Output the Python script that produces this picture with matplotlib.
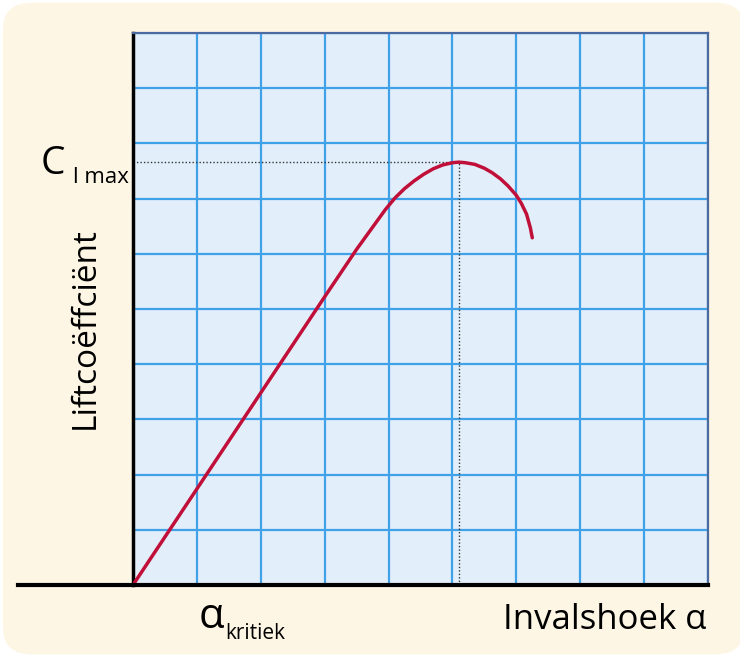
import matplotlib.pyplot as plt
from matplotlib.patches import FancyBboxPatch

# curve (grid units: x 0..9, y 0..10)
alpha = [0.0, 1.0, 2.0, 3.0, 3.5, 3.8, 3.95, 4.1, 4.25, 4.4, 4.55, 4.7, 4.85, 5.0, 5.1, 5.2, 5.35,
         5.5, 5.62, 5.75, 5.87, 6.0, 6.08, 6.16, 6.22, 6.25]
cl = [0.0, 1.74, 3.48, 5.22, 6.08, 6.56, 6.80, 7.01, 7.18, 7.32, 7.44, 7.54, 7.61, 7.65, 7.66, 7.65, 7.62,
      7.55, 7.47, 7.36, 7.23, 7.06, 6.91, 6.72, 6.47, 6.29]
alpha_peak = 5.1
cl_peak = 7.66

plt.rcParams['font.family'] = ['Open Sans', 'DejaVu Sans']

fig = plt.figure(figsize=(7.4, 6.57), dpi=100)
fig.patch.set_facecolor('white')
bg = FancyBboxPatch((0.004, 0.004), 0.992 + 0.01, 0.992, boxstyle='round,pad=0,rounding_size=0.04',
                    transform=fig.transFigure, facecolor='#fef6e5', edgecolor='none', zorder=-10)
fig.patches.append(bg)

ax = fig.add_axes([0.1797, 0.1096, 0.777, 0.8402])
ax.set_facecolor('#e2effb')
ax.set_xlim(0, 9)
ax.set_ylim(0, 10)
ax.set_xticks(range(10))
ax.set_yticks(range(11))
ax.grid(color='#3fa2e8', linewidth=1.6)
ax.tick_params(length=0, labelbottom=False, labelleft=False)
ax.set_axisbelow(True)

for side in ['top', 'right']:
    ax.spines[side].set_color('#4a6aa0')
    ax.spines[side].set_linewidth(1.6)
ax.spines['left'].set_linewidth(2.5)
ax.spines['bottom'].set_visible(False)
# x-axis line reaching past the plot on the left
ax.plot([-0.2, 1.0], [0, 0], transform=ax.transAxes, color='black', linewidth=3, clip_on=False, zorder=5)

ax.plot([0, alpha_peak], [cl_peak, cl_peak], color='#333333', linestyle=(0, (1, 1.5)), linewidth=1)
ax.plot([alpha_peak, alpha_peak], [0, cl_peak], color='#333333', linestyle=(0, (1, 1.5)), linewidth=1)
ax.plot(alpha, cl, color='#c0103a', linewidth=2.5, solid_capstyle='round', solid_joinstyle='round', zorder=4)

fig.text(0.055, 0.735, 'C', fontsize=28, ha='left', va='baseline')
fig.text(0.099, 0.722, 'l max', fontsize=16, ha='left', va='baseline')
fig.text(0.115, 0.50, 'Liftcoëffciënt', fontsize=24, rotation=90, ha='center', va='center')
fig.text(0.268, 0.044, 'α', fontsize=30, ha='left', va='baseline')
fig.text(0.305, 0.028, 'kritiek', fontsize=15, ha='left', va='baseline')
fig.text(0.954, 0.043, 'Invalshoek α', fontsize=25, ha='right', va='baseline')

fig.savefig('out.png', dpi=100)
